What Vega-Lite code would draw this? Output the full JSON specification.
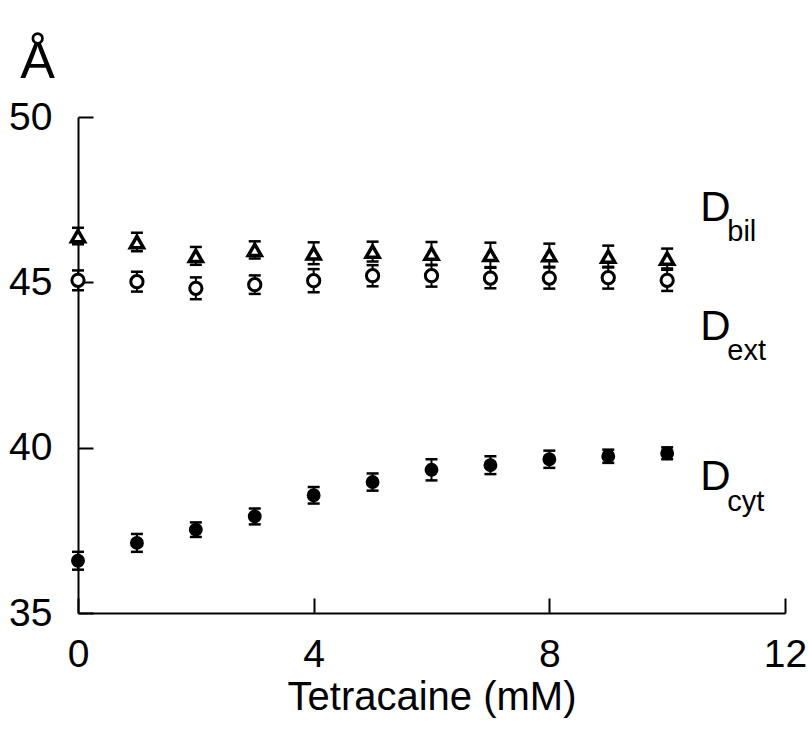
{
  "$schema": "https://vega.github.io/schema/vega-lite/v6.json",
  "autosize": "none",
  "width": 707,
  "height": 496,
  "padding": {"left": 78, "top": 117, "right": 23, "bottom": 118},
  "background": "white",
  "config": {
    "view": {"stroke": null},
    "font": "Liberation Sans",
    "axis": {
      "domainColor": "black", "domainWidth": 2,
      "tickColor": "black", "tickWidth": 2, "tickSize": -15,
      "grid": false, "labelFlush": false, "labelOverlap": false,
      "labelFont": "Liberation Sans", "labelFontSize": 39, "labelColor": "black",
      "titleFont": "Liberation Sans", "titleFontSize": 40, "titleColor": "black", "titleFontWeight": "normal"
    }
  },
  "datasets": {
    "pts": [
      {"series": "bil", "x": 0, "y": 46.4, "err": 0.25},
      {"series": "bil", "x": 1, "y": 46.22, "err": 0.28},
      {"series": "bil", "x": 2, "y": 45.8, "err": 0.27},
      {"series": "bil", "x": 3, "y": 45.98, "err": 0.26},
      {"series": "bil", "x": 4, "y": 45.88, "err": 0.33},
      {"series": "bil", "x": 5, "y": 45.93, "err": 0.3},
      {"series": "bil", "x": 6, "y": 45.87, "err": 0.35},
      {"series": "bil", "x": 7, "y": 45.83, "err": 0.37},
      {"series": "bil", "x": 8, "y": 45.82, "err": 0.35},
      {"series": "bil", "x": 9, "y": 45.78, "err": 0.33},
      {"series": "bil", "x": 10, "y": 45.72, "err": 0.3},
      {"series": "ext", "x": 0, "y": 45.06, "err": 0.3},
      {"series": "ext", "x": 1, "y": 45.02, "err": 0.3},
      {"series": "ext", "x": 2, "y": 44.82, "err": 0.33},
      {"series": "ext", "x": 3, "y": 44.93, "err": 0.28},
      {"series": "ext", "x": 4, "y": 45.05, "err": 0.35},
      {"series": "ext", "x": 5, "y": 45.2, "err": 0.32},
      {"series": "ext", "x": 6, "y": 45.2, "err": 0.33},
      {"series": "ext", "x": 7, "y": 45.13, "err": 0.31},
      {"series": "ext", "x": 8, "y": 45.13, "err": 0.32},
      {"series": "ext", "x": 9, "y": 45.14, "err": 0.33},
      {"series": "ext", "x": 10, "y": 45.06, "err": 0.32},
      {"series": "cyt", "x": 0, "y": 36.58, "err": 0.27},
      {"series": "cyt", "x": 1, "y": 37.12, "err": 0.27},
      {"series": "cyt", "x": 2, "y": 37.52, "err": 0.22},
      {"series": "cyt", "x": 3, "y": 37.92, "err": 0.24},
      {"series": "cyt", "x": 4, "y": 38.56, "err": 0.25},
      {"series": "cyt", "x": 5, "y": 38.96, "err": 0.26},
      {"series": "cyt", "x": 6, "y": 39.33, "err": 0.32},
      {"series": "cyt", "x": 7, "y": 39.47, "err": 0.27},
      {"series": "cyt", "x": 8, "y": 39.65, "err": 0.26},
      {"series": "cyt", "x": 9, "y": 39.74, "err": 0.2},
      {"series": "cyt", "x": 10, "y": 39.83, "err": 0.18}
    ],
    "mainLabels": [
      {"x": 10.56, "y": 46.86, "text": "D"},
      {"x": 10.56, "y": 43.26, "text": "D"},
      {"x": 10.56, "y": 38.72, "text": "D"}
    ],
    "subLabels": [
      {"x": 11.02, "y": 46.25, "text": "bil"},
      {"x": 11.02, "y": 42.65, "text": "ext"},
      {"x": 11.02, "y": 38.09, "text": "cyt"}
    ]
  },
  "layer": [
    {
      "data": {"name": "pts"},
      "mark": {"type": "errorbar", "ticks": {"size": 12, "thickness": 2.5, "color": "black", "opacity": 1}, "thickness": 2, "color": "black", "opacity": 1},
      "encoding": {
        "x": {
          "field": "x", "type": "quantitative",
          "scale": {"domain": [0, 12], "nice": false, "zero": false},
          "axis": {"values": [0, 4, 8, 12], "format": "d", "title": "Tetracaine (mM)", "labelPadding": 37, "titlePadding": 3}
        },
        "y": {
          "field": "y", "type": "quantitative",
          "scale": {"domain": [35, 50], "nice": false, "zero": false},
          "axis": {"values": [35, 40, 45, 50], "format": "d", "title": "Å", "titleAngle": 0, "titleFontSize": 52, "titleAlign": "center", "titleBaseline": "alphabetic", "titleX": -41, "titleY": -40, "labelPadding": 41}
        },
        "yError": {"field": "err"}
      }
    },
    {
      "data": {"name": "pts"},
      "mark": {"type": "point", "stroke": "black", "opacity": 1, "filled": false},
      "encoding": {
        "x": {"field": "x", "type": "quantitative"},
        "y": {"field": "y", "type": "quantitative"},
        "shape": {"field": "series", "type": "nominal", "scale": {"domain": ["bil", "ext", "cyt"], "range": ["triangle-up", "circle", "circle"]}, "legend": null},
        "fill": {"field": "series", "type": "nominal", "scale": {"domain": ["bil", "ext", "cyt"], "range": ["white", "white", "black"]}, "legend": null},
        "size": {"field": "series", "type": "nominal", "scale": {"domain": ["bil", "ext", "cyt"], "range": [170, 130, 200]}, "legend": null},
        "strokeWidth": {"field": "series", "type": "nominal", "scale": {"domain": ["bil", "ext", "cyt"], "range": [3.5, 2.5, 2.5]}, "legend": null}
      }
    },
    {
      "data": {"name": "mainLabels"},
      "mark": {"type": "text", "align": "left", "baseline": "alphabetic", "fontSize": 42, "font": "Liberation Sans", "color": "black"},
      "encoding": {
        "x": {"field": "x", "type": "quantitative"},
        "y": {"field": "y", "type": "quantitative"},
        "text": {"field": "text"}
      }
    },
    {
      "data": {"name": "subLabels"},
      "mark": {"type": "text", "align": "left", "baseline": "alphabetic", "fontSize": 29, "font": "Liberation Sans", "color": "black"},
      "encoding": {
        "x": {"field": "x", "type": "quantitative"},
        "y": {"field": "y", "type": "quantitative"},
        "text": {"field": "text"}
      }
    }
  ]
}
